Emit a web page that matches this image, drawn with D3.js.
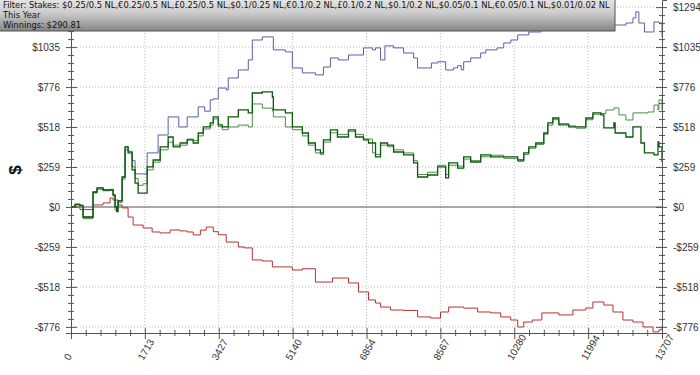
<!DOCTYPE html>
<html>
<head>
<meta charset="utf-8">
<script src="https://cdn.jsdelivr.net/npm/d3@7"></script>
<style>
    body { margin: 0; background: #fff; }
    svg { display: block; }
</style>
</head>
<body>
<script>
// Winnings graph: hands played (x) against dollars won (y)

var headerLines = [
    "Filter: Stakes: $0.25/0.5 NL,\u20ac0.25/0.5 NL,\u00a30.25/0.5 NL,$0.1/0.25 NL," +
    "\u20ac0.1/0.2 NL,\u00a30.1/0.2 NL,$0.1/0.2 NL,$0.05/0.1 NL,\u20ac0.05/0.1 NL," +
    "$0.01/0.02 NL",
    "This Year",
    "Winnings: $290.81"
];

var xTicks = [0, 1713, 3427, 5140, 6854, 8567, 10280, 11994, 13707];
var yTicks = [-776.4, -517.6, -258.8, 0, 258.8, 517.6, 776.4, 1035.2, 1294];
var yTickLabels = ["-$776", "-$518", "-$259", "$0", "$259", "$518", "$776",
    "$1035", "$1294"];

// blue line
var blueHands = [0, 93, 209, 279, 488, 511, 604, 743, 906, 976, 1022, 1092,
    1185, 1254, 1324, 1417, 1487, 1673, 1766, 2020, 2253, 2500, 2695, 2950,
    3100, 3229, 3299, 3415, 3600, 3647, 3880, 4112, 4205, 4437, 4693, 4972,
    5134, 5366, 5669, 5855, 6017, 6200, 6435, 6784, 6993, 7063, 7179, 7280,
    7481, 7713, 7945, 8038, 8271, 8360, 8503, 8689, 8870, 8967, 9050, 9107,
    9270, 9502, 9620, 9880, 10036, 10200, 10361, 10617, 10900, 11300, 11700,
    12100, 12592, 12870, 13033, 13100, 13170, 13300, 13460, 13521, 13637,
    13707];
var blueValues = [0, 15, 10, -65, -65, 97, 123, 110, 110, 78, 0, 40,
    194, 389, 360, 300, 214, 214, 350, 466, 583, 518, 583, 648,
    620, 693, 700, 770, 758, 835, 887, 952, 1081, 1101, 1017, 1004,
    900, 868, 855, 906, 965, 952, 984, 1030, 1017, 1030, 952, 1043,
    1030, 997, 965, 900, 900, 932, 940, 887, 900, 915, 887, 940,
    965, 997, 1017, 1030, 1062, 1081, 1114, 1133, 1150, 1165, 1170,
    1175, 1178, 1191, 1224, 1263, 1191, 1133, 1133, 1198, 1191,
    1101];

// dark green line
var greenHands = [0, 93, 209, 279, 488, 511, 604, 743, 906, 976, 1022, 1060,
    1092, 1185, 1254, 1324, 1417, 1487, 1557, 1673, 1766, 1905, 2068, 2253,
    2370, 2532, 2695, 2834, 2950, 3067, 3229, 3299, 3415, 3508, 3647, 3880,
    4112, 4205, 4437, 4670, 4693, 4972, 5134, 5366, 5506, 5669, 5785, 5855,
    6017, 6180, 6435, 6598, 6784, 6900, 7063, 7179, 7341, 7481, 7713, 7945,
    8038, 8271, 8503, 8689, 8758, 8967, 9107, 9270, 9502, 9734, 10036, 10361,
    10501, 10617, 10780, 10966, 11059, 11175, 11314, 11546, 11709, 11941,
    12104, 12290, 12359, 12592, 12620, 12870, 13033, 13150, 13219, 13300,
    13521, 13614, 13637, 13707];
var greenValues = [0, 15, 10, -65, -65, 97, 123, 110, 110, 78, 0, -30,
    40, 194, 389, 350, 240, 155, 90, 90, 259, 304, 389, 453,
    389, 414, 434, 414, 479, 518, 544, 583, 531, 518, 583, 628,
    609, 738, 745, 712, 628, 609, 518, 479, 414, 369, 350, 434,
    499, 453, 499, 453, 434, 414, 324, 414, 400, 356, 337, 285,
    194, 207, 259, 188, 285, 252, 324, 291, 337, 324, 324, 304,
    350, 389, 414, 479, 544, 576, 531, 518, 518, 576,
    609, 596, 512, 544, 479, 453, 518, 518, 414, 350,
    337, 421, 389, 291];

// light green line
var lightHands = [0, 93, 209, 279, 488, 511, 604, 743, 906, 976, 1022, 1092,
    1185, 1254, 1324, 1417, 1487, 1557, 1673, 1766, 1905, 2068, 2253, 2370,
    2532, 2695, 2834, 2950, 3067, 3229, 3299, 3415, 3508, 3647, 3880, 4112,
    4205, 4437, 4670, 4693, 4972, 5134, 5366, 5506, 5669, 5785, 5855, 6017,
    6180, 6435, 6598, 6784, 6993, 7063, 7179, 7341, 7481, 7713, 7945, 8038,
    8271, 8503, 8689, 8758, 8967, 9107, 9270, 9502, 9734, 10036, 10361,
    10501, 10617, 10780, 10966, 11059, 11175, 11314, 11546, 11709, 11941,
    12104, 12290, 12406, 12592, 12708, 12870, 13033, 13219, 13382, 13521,
    13614, 13637, 13707];
var lightValues = [0, 20, 5, -75, -75, 90, 115, 105, 115, 70, -20, 30,
    180, 370, 360, 260, 185, 140, 150, 240, 290, 370, 420, 400,
    400, 440, 430, 460, 505, 530, 570, 520, 500, 518, 530, 518,
    667, 640, 620, 583, 518, 500, 460, 400, 350, 340, 420, 480,
    470, 490, 470, 440, 350, 340, 400, 390, 370, 350, 300, 210,
    225, 270, 210, 270, 265, 310, 300, 325, 335, 315, 295,
    340, 380, 405, 470, 530, 565, 540, 525, 510, 565,
    600, 605, 628, 641, 596, 563, 609, 609, 615, 660,
    628, 693, 628];

// red line
var redHands = [0, 209, 488, 511, 743, 906, 976, 1092, 1185, 1324, 1441,
    1673, 1882, 2068, 2300, 2532, 2695, 2834, 3000, 3136, 3299, 3415, 3600,
    3880, 4020, 4205, 4437, 4670, 5134, 5366, 5669, 6064, 6435, 6668, 6900,
    7063, 7179, 7410, 7713, 8038, 8340, 8570, 8758, 9107, 9430, 9734, 9966,
    10198, 10361, 10501, 10700, 10920, 11314, 11640, 11941, 12104, 12359,
    12570, 12800, 13033, 13266, 13498, 13637, 13707];
var redValues = [0, -17, -17, 13, 26, 58, 45, 13, -6, -65, -117,
    -136, -162, -168, -149, -155, -162, -181, -150, -130, -160, -180, -227,
    -259, -265, -343, -350, -388, -408, -400, -486, -460, -492, -550, -602,
    -622, -648, -667, -670, -712, -719, -680, -648, -655, -680, -686, -712,
    -732, -777, -745, -732, -686, -699, -667, -654, -615, -635,
    -680, -732, -745, -777, -809, -796, -770];

var width = 700,
    height = 375,
    plot = {left: 71, right: 662, top: 0, bottom: 333};

var svg = d3.select("body").append("svg")
    .attr("width", width)
    .attr("height", height);

svg.append("rect")
    .attr("width", width)
    .attr("height", height)
    .attr("fill", "#fff");

var xScale = d3.scaleLinear()
    .domain([0, 13707])
    .range([plot.left, plot.right]);

var yScale = d3.scaleLinear()
    .domain([-816, 1340])
    .range([plot.bottom, plot.top]);

// minor ticks: 4 between every pair of majors
function minorTicks(majors) {
    var out = [];
    for (var i = 0; i < majors.length - 1; i++) {
        var step = (majors[i + 1] - majors[i]) / 5;
        for (var j = 1; j < 5; j++) {
            out.push(majors[i] + step * j);
        }
    }
    return out;
}

// dotted grid
svg.append("g")
    .selectAll("line")
    .data(xTicks.slice(1, -1))
    .enter()
    .append("line")
    .attr("x1", function (d) { return xScale(d); })
    .attr("x2", function (d) { return xScale(d); })
    .attr("y1", plot.top)
    .attr("y2", plot.bottom)
    .attr("stroke", "#bbb")
    .attr("stroke-dasharray", "1,2");

svg.append("g")
    .selectAll("line")
    .data(yTicks.filter(function (d) { return d !== 0; }))
    .enter()
    .append("line")
    .attr("x1", plot.left)
    .attr("x2", plot.right)
    .attr("y1", function (d) { return yScale(d); })
    .attr("y2", function (d) { return yScale(d); })
    .attr("stroke", "#bbb")
    .attr("stroke-dasharray", "1,2");

// zero line
svg.append("line")
    .attr("x1", plot.left)
    .attr("x2", plot.right)
    .attr("y1", yScale(0))
    .attr("y2", yScale(0))
    .attr("stroke", "#8a8a8a")
    .attr("stroke-width", 1.5);

// series
var line = d3.line()
    .x(function (d) { return xScale(d[0]); })
    .y(function (d) { return yScale(d[1]); })
    .curve(d3.curveStepAfter);

function drawSeries(hands, values, color, w) {
    svg.append("path")
        .datum(d3.zip(hands, values))
        .attr("fill", "none")
        .attr("stroke", color)
        .attr("stroke-width", w)
        .attr("d", line);
}

drawSeries(redHands, redValues, "#b83232", 1);
drawSeries(blueHands, blueValues, "#5c5cae", 1);
drawSeries(lightHands, lightValues, "#4e8c4e", 1);
drawSeries(greenHands, greenValues, "#0b5a0b", 1.3);

// axes
function styleAxis(g) {
    g.select(".domain").attr("stroke", "#555");
    g.selectAll(".tick line").attr("stroke", "#555");
    g.selectAll("text")
        .attr("fill", "#333")
        .attr("font-family", "Liberation Sans, Arial, sans-serif")
        .attr("font-size", "10px");
}

// the top left label sits under the header box, so it is left out
var gLeft = svg.append("g")
    .attr("transform", "translate(" + plot.left + ",0)")
    .call(d3.axisLeft(yScale).tickValues(yTicks).tickSize(5)
        .tickPadding(6)
        .tickFormat(function (d, i) {
            return i === yTicks.length - 1 ? "" : yTickLabels[i];
        }));
gLeft.selectAll(".tick line").attr("x1", 6);
styleAxis(gLeft);

var gLeftMinor = svg.append("g")
    .attr("transform", "translate(" + plot.left + ",0)")
    .call(d3.axisLeft(yScale).tickValues(minorTicks(yTicks)).tickSize(3)
        .tickFormat(""));
gLeftMinor.select(".domain").remove();
gLeftMinor.selectAll(".tick line").attr("x1", 3).attr("stroke", "#555");

var gRight = svg.append("g")
    .attr("transform", "translate(" + plot.right + ",0)")
    .call(d3.axisRight(yScale).tickValues(yTicks).tickSize(5)
        .tickPadding(6)
        .tickFormat(function (d, i) { return yTickLabels[i]; }));
gRight.selectAll(".tick line").attr("x1", -6);
styleAxis(gRight);

var gRightMinor = svg.append("g")
    .attr("transform", "translate(" + plot.right + ",0)")
    .call(d3.axisRight(yScale).tickValues(minorTicks(yTicks)).tickSize(3)
        .tickFormat(""));
gRightMinor.select(".domain").remove();
gRightMinor.selectAll(".tick line").attr("x1", -3).attr("stroke", "#555");

var gBottom = svg.append("g")
    .attr("transform", "translate(0," + plot.bottom + ")")
    .call(d3.axisBottom(xScale).tickValues(xTicks).tickSize(6)
        .tickFormat(d3.format("d")));
gBottom.selectAll(".tick line").attr("y1", -5);
styleAxis(gBottom);
gBottom.selectAll("text")
    .attr("text-anchor", "start")
    .attr("dy", null)
    .attr("y", 0)
    .attr("transform", "translate(-2,28) rotate(-60)");

var gBottomMinor = svg.append("g")
    .attr("transform", "translate(0," + plot.bottom + ")")
    .call(d3.axisBottom(xScale).tickValues(minorTicks(xTicks)).tickSize(3)
        .tickFormat(""));
gBottomMinor.select(".domain").remove();
gBottomMinor.selectAll(".tick line").attr("y1", -3).attr("stroke", "#555");

// y caption
svg.append("text")
    .attr("transform", "translate(21,170) rotate(-90)")
    .attr("text-anchor", "middle")
    .attr("font-family", "Liberation Sans, Arial, sans-serif")
    .attr("font-weight", "bold")
    .attr("font-size", "17px")
    .attr("fill", "#111")
    .text("$");

// filter header box
var defs = svg.append("defs");
var grad = defs.append("linearGradient")
    .attr("id", "hdr")
    .attr("x1", 0).attr("y1", 0)
    .attr("x2", 0).attr("y2", 1);
grad.append("stop").attr("offset", "0%").attr("stop-color", "#e6e6e6");
grad.append("stop").attr("offset", "45%").attr("stop-color", "#cacaca");
grad.append("stop").attr("offset", "100%").attr("stop-color", "#858585");

svg.append("rect")
    .attr("x", -1)
    .attr("y", -1)
    .attr("width", 616)
    .attr("height", 32)
    .attr("fill", "url(#hdr)")
    .attr("stroke", "#555");

var hdr = svg.append("g");
hdr.selectAll("text")
    .data(headerLines)
    .enter()
    .append("text")
    .attr("x", 3)
    .attr("y", function (d, i) { return 8.5 + i * 10; })
    .attr("font-family", "DejaVu Sans, Verdana, sans-serif")
    .attr("font-size", "8.5px")
    .attr("fill", "#111")
    .text(function (d) { return d; });

// squeeze the header text to the box width
var firstLen = hdr.select("text").node().getComputedTextLength();
var k = 608 / firstLen;
hdr.attr("transform", "translate(" + (3 - 3 * k) + ",0) scale(" + k + ",1)");
</script>
</body>
</html>
